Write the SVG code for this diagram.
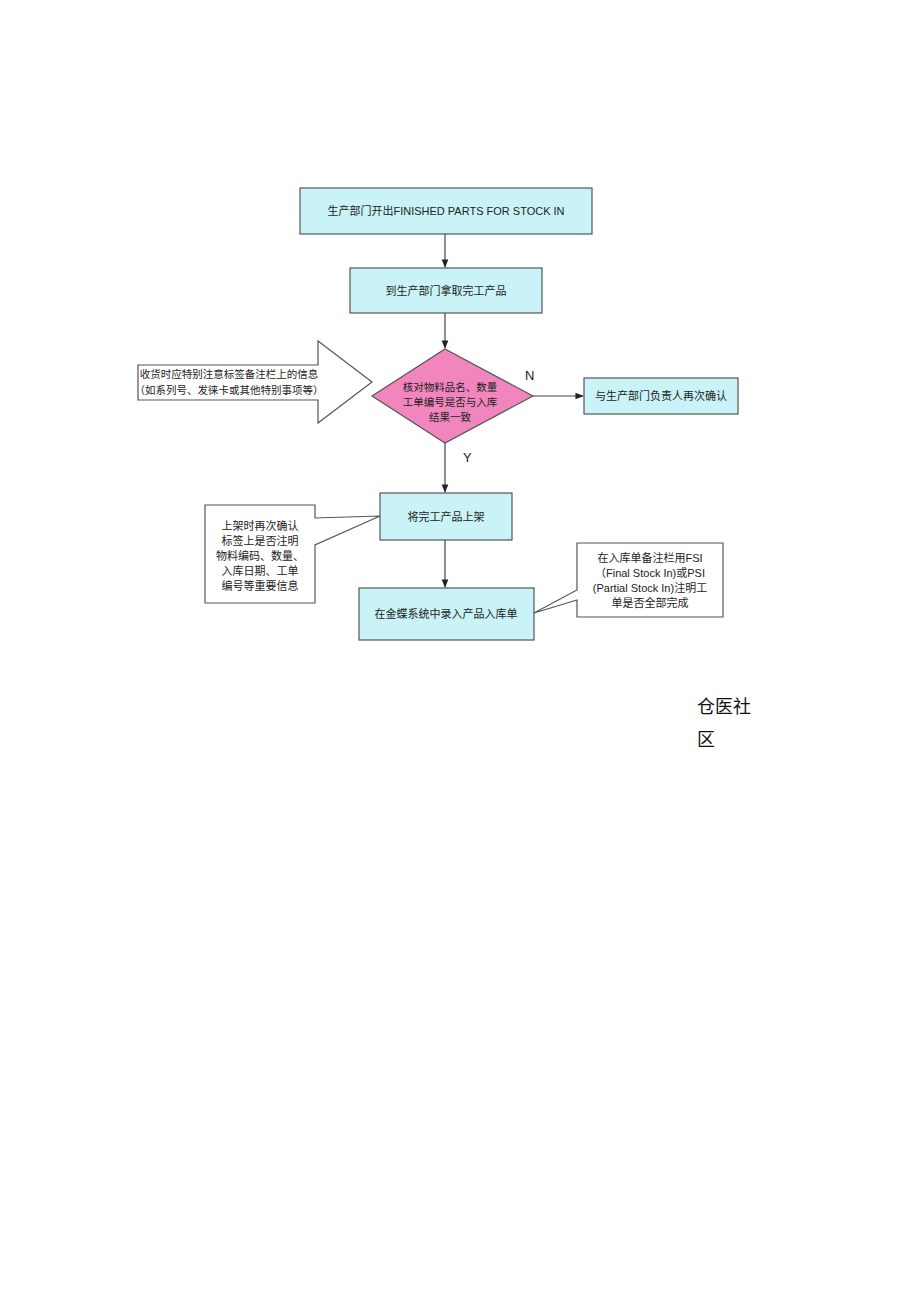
<svg xmlns="http://www.w3.org/2000/svg" width="920" height="1301" viewBox="0 0 920 1301">
<defs>
<style>
.b{fill:#c9f3f6;stroke:#555;stroke-width:1.2}
.t{font-family:"Liberation Sans","Noto Sans CJK SC",sans-serif;font-size:11px;fill:#222;text-anchor:middle}
.c{fill:#fff;stroke:#555;stroke-width:1.2}
.l{stroke:#444;stroke-width:1.2;fill:none}
</style>
<marker id="a" viewBox="0 0 10 10" refX="9" refY="5" markerWidth="7" markerHeight="7" orient="auto"><path d="M0,1L10,5L0,9z" fill="#222"/></marker>
</defs>
<rect width="920" height="1301" fill="#fff"/>
<g id="connectors">
<line class="l" x1="445" y1="234" x2="445" y2="267" marker-end="url(#a)"/>
<line class="l" x1="445" y1="313" x2="445" y2="348" marker-end="url(#a)"/>
<line class="l" x1="533" y1="396" x2="583" y2="396" marker-end="url(#a)"/>
<line class="l" x1="445" y1="443" x2="445" y2="492" marker-end="url(#a)"/>
<line class="l" x1="445" y1="540" x2="445" y2="587" marker-end="url(#a)"/>
<text x="525" y="380" style="font-family:'Liberation Sans',sans-serif;font-size:13px;fill:#222">N</text>
<text x="463" y="462" style="font-family:'Liberation Sans',sans-serif;font-size:13px;fill:#222">Y</text>
</g>
<g id="n1"><rect class="b" x="300" y="188" width="292" height="46"/><text class="t" x="446" y="215">生产部门开出FINISHED PARTS FOR STOCK IN</text></g>
<g id="n2"><rect class="b" x="350" y="268" width="192" height="45"/><text class="t" x="446" y="295">到生产部门拿取完工产品</text></g>
<g id="n3"><polygon points="445,349 533,396 445,443 372,396" fill="#f086bd" stroke="#555" stroke-width="1.2"/>
<text class="t" x="450" y="391" style="font-size:10.5px">核对物料品名、数量</text><text class="t" x="450" y="406" style="font-size:10.5px">工单编号是否与入库</text><text class="t" x="450" y="421" style="font-size:10.5px">结果一致</text></g>
<g id="n4"><rect class="b" x="584" y="378" width="154" height="36"/><text class="t" x="661" y="400">与生产部门负责人再次确认</text></g>
<g id="n5"><polygon class="c" points="138,365 318,365 318,341 372,382 318,423 318,400 138,400"/>
<text class="t" x="229" y="378" style="font-size:10.5px">收货时应特别注意标签备注栏上的信息</text><text class="t" x="229" y="394" style="font-size:10.5px">（如系列号、发徕卡或其他特别事项等）</text></g>
<g id="n6"><rect class="b" x="380" y="493" width="132" height="47"/><text class="t" x="446" y="521">将完工产品上架</text></g>
<g id="n7"><rect class="b" x="359" y="588" width="175" height="52"/><text class="t" x="446" y="618">在金蝶系统中录入产品入库单</text></g>
<g id="n8"><polygon class="c" points="205,505 315,505 315,518 380,516 315,545 315,603 205,603"/>
<text class="t" x="260" y="530">上架时再次确认</text><text class="t" x="260" y="545">标签上是否注明</text><text class="t" x="260" y="560">物料编码、数量、</text><text class="t" x="260" y="575">入库日期、工单</text><text class="t" x="260" y="590">编号等重要信息</text></g>
<g id="n9"><polygon class="c" points="577,543 723,543 723,617 577,617 577,600 534,613 577,590"/>
<text class="t" x="650" y="562">在入库单备注栏用FSI</text><text class="t" x="650" y="577">（Final Stock In)或PSI</text><text class="t" x="650" y="592">(Partial Stock In)注明工</text><text class="t" x="650" y="607">单是否全部完成</text></g>
<g id="wm" style="font-family:'Noto Sans CJK SC',sans-serif;font-size:18px;fill:#111">
<text x="697" y="713">仓医社</text><text x="697" y="746">区</text></g>
</svg>
